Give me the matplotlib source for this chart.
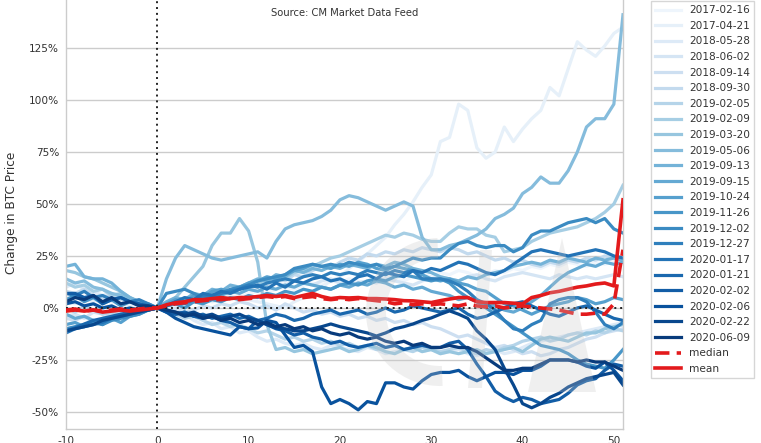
import numpy as np
import matplotlib
matplotlib.use("Agg")
import matplotlib.pyplot as plt
from matplotlib.patches import Wedge, Polygon
from matplotlib.transforms import IdentityTransform

days = list(range(-10, 52))

dates = ["2017-02-16", "2017-04-21", "2018-05-28", "2018-06-02", "2018-09-14",
         "2018-09-30", "2019-02-05", "2019-02-09", "2019-03-20", "2019-05-06",
         "2019-09-13", "2019-09-15", "2019-10-24", "2019-11-26", "2019-12-02",
         "2019-12-27", "2020-01-17", "2020-01-21", "2020-02-02", "2020-02-06",
         "2020-02-22", "2020-06-09"]

s0 = [5,6,4,5,3,4,2,3,1,1, 0, 1,2,2,3,4,3,5,6,5,7, 8,7,9,10,9,11,12,11,13,12, 14,13,12,14,15,14,13,15,16,15, 17,16,18,17,15,16,18,17,19,18, 20,19,21,20,22,21,20,22,21,23, 24]
s1 = [3,2,4,3,5,3,2,1,2,1, 0, 1,3,2,4,5,3,4,6,5,4, 3,2,1,0,3,5,8,10,13,15, 19,22,26,30,34,40,45,51,58,64, 80,82,98,95,77,72,75,87,80,86, 91,95,106,102,115,128,124,121,126,132, 135]
s2 = [10,12,9,8,6,7,4,5,3,2, 0, -2,-4,-3,-6,-8,-7,-10,-9,-12,-11, -14,-16,-15,-17,-18,-17,-19,-20,-18,-19, -20,-21,-19,-20,-22,-21,-20,-19,-21,-20, -22,-21,-20,-22,-23,-21,-20,-22,-21,-19, -17,-16,-15,-14,-13,-12,-11,-10,-9,-8, -7]
s3 = [-4,-3,-5,-2,-3,-1,-2,0,-1,0, 0, 2,3,5,4,6,8,7,9,10,9, 11,10,12,11,13,12,11,13,14,12, 11,12,13,12,14,13,12,11,13,14, 15,14,13,15,16,14,13,15,16,17, 16,15,14,16,15,14,15,14,15,16, 15]
s4 = [-5,-6,-4,-7,-5,-3,-4,-2,-3,-1, 0, -1,0,-2,-1,1,0,2,1,3,2, 0,1,-1,2,0,-2,-1,-3,-2,-4, -3,-5,-4,-6,-5,-7,-6,-8,-7,-9, -10,-12,-14,-13,-15,-17,-19,-18,-20,-22, -21,-23,-22,-20,-19,-17,-15,-14,-12,-11, -10]
s5 = [8,7,9,6,5,6,4,3,2,1, 0, 1,3,4,3,6,5,8,7,10,9, 12,11,14,13,16,15,18,20,19,22, 24,23,26,25,27,26,28,27,29,28, 27,29,28,26,27,25,23,24,22,23, 21,20,22,21,23,22,24,23,25,24, 25]
s6 = [0,-2,1,-1,-3,-2,-4,-3,-2,-1, 0, -2,-3,-5,-4,-6,-8,-7,-9,-8,-10, -12,-11,-13,-15,-14,-16,-15,-17,-16,-18, -17,-19,-18,-20,-19,-18,-20,-21,-19,-20, -21,-20,-19,-21,-22,-20,-21,-19,-18,-16, -15,-14,-16,-15,-13,-12,-13,-11,-12,-10, -11]
s7 = [12,10,11,8,9,6,7,4,3,1, 0, 2,4,3,5,6,5,7,8,9,10, 12,13,15,14,17,18,20,22,24,25, 27,29,31,33,35,34,36,35,33,32, 32,36,39,38,38,35,34,27,28,29, 32,34,36,37,38,39,41,43,46,50, 59]
s8 = [18,17,15,14,12,10,8,5,3,2, 0, 2,5,10,15,20,30,36,36,43,37, 22,-8,-20,-19,-21,-20,-22,-21,-20,-19, -21,-20,-18,-19,-21,-22,-20,-19,-21,-20, -22,-21,-22,-21,-20,-22,-21,-20,-19,-21, -18,-15,-14,-15,-16,-14,-12,-12,-10,-9, -8]
s9 = [14,12,13,10,9,7,6,4,2,1, 0, 14,24,30,28,26,24,23,24,25,26, 27,24,32,38,40,41,42,44,47,52, 54,53,51,49,47,49,51,49,34,28, 28,30,31,33,35,38,43,45,48,55, 58,63,60,60,66,75,87,91,91,98, 141]
s10 = [20,21,15,14,14,12,8,5,3,2, 0, 3,5,4,7,6,9,8,11,10,12, 14,13,16,15,18,17,19,18,20,19, 21,20,19,21,20,22,21,19,18,17, 15,14,13,15,14,16,17,18,20,21, 22,21,23,22,24,23,22,24,23,24, 23]
s11 = [-3,-5,-4,-6,-7,-5,-3,-4,-2,-1, 0, 1,2,4,3,5,7,6,8,7,9, 8,10,9,11,10,12,11,10,9,11, 10,12,11,13,12,10,11,9,10,8, 7,6,4,5,3,2,1,-1,-2,0, 3,6,10,14,17,19,21,20,22,21, 22]
s12 = [-8,-7,-9,-6,-8,-5,-7,-4,-3,-1, 0, 2,4,3,6,5,8,9,8,10,12, 13,15,14,16,18,19,21,20,19,21, 20,22,21,19,18,20,19,18,16,14, 13,14,12,11,9,8,5,2,1,-1, -3,-1,1,2,3,5,4,2,3,5, 4]
s13 = [4,6,3,5,2,4,1,3,2,1, 0, 1,2,0,3,2,4,3,5,4,6, 5,7,6,8,7,9,8,10,9,11, 12,11,13,14,13,15,16,15,14,13, 14,12,8,5,3,0,-3,-6,-9,-12, -15,-18,-19,-20,-22,-25,-27,-28,-29,-25, -20]
s14 = [-10,-9,-8,-7,-8,-6,-5,-4,-3,-1, 0, 7,8,9,7,5,6,7,9,10,11, 13,14,15,16,19,20,21,20,21,20, 22,21,20,21,19,20,22,24,23,24, 24,28,31,32,30,29,30,30,27,29, 35,37,37,39,41,42,43,41,43,38, 36]
s15 = [7,6,8,5,6,4,5,3,4,2, 0, 1,3,2,4,6,5,7,8,9,11, 10,12,13,14,13,15,16,15,17,16, 17,16,18,17,16,18,17,18,14,14, 14,13,11,8,4,2,-1,-6,-10,-11, -8,-6,2,4,5,5,3,-2,-8,-10, -7]
s16 = [-12,-10,-9,-8,-7,-5,-4,-3,-2,-1, 0, 1,3,5,4,7,6,8,7,9,10, 11,9,12,10,13,12,14,15,13,14, 12,15,16,14,17,16,15,18,17,19, 18,20,22,21,19,17,16,18,21,24, 27,28,27,26,25,26,27,28,27,25, 24]
s17 = [-11,-9.6,-7.7,-6,-5,-4,-3,-2,-1,-1, 0, -2,-3,-2,-4,-3,-5,-4,-3,-5,-4, -6,-5,-3,-4,-6,-5,-3,-2,-1,-3, -2,-1,-3,-2,0,-2,-1,1,0,-1, -2,-1,0,-3,-5,-4,-2,0,2,3, 1,-1,-3,-4,-2,0,1,-1,-3,-5, -6]
s18 = [7,7,5,6,2,4,5,3,2,1, 0, -1,-3,-2,-4,-5,-4,-6,-7,-9,-10, -6,-8,-10,-11,-13,-12,-14,-15,-17,-16, -18,-19,-18,-17,-19,-18,-20,-19,-18,-19, -19,-17,-16,-20,-27,-33,-40,-43,-45,-43, -44,-46,-45,-44,-41,-37,-35,-34,-30,-27, -28]
s19 = [2,3,1,2,0,1,-1,0,-1,0, 0, -2,-5,-7,-9,-10,-11,-12,-13,-9,-10, -9.6,-6,-7,-13,-19,-18,-21,-38,-46,-44, -46,-49,-45,-46,-36,-36,-38,-39,-35,-32, -31,-31,-30,-33,-35,-33,-31,-31,-32,-30, -30,-28,-25,-25,-25,-26,-28,-29,-26,-30, -35]
s20 = [-11,-10,-9,-8,-6,-5,-4,-3,-2,-1, 0, -1,-2,-3,-2,-4,-3,-5,-4,-3,-5, -6,-8,-9.6,-10,-11,-11,-10,-9,-7.7,-9, -10,-11,-12,-13.5,-12,-10,-9,-7.7,-6,-4.8, -3,-1.4,-3,-5,-11,-15,-20,-29,-37,-46, -48,-46,-43,-41,-38,-36,-34,-33,-32,-31, -37]
s21 = [3,5,4,6,3,5,2,3,1,1, 0, -1,-2,-4,-3,-5,-4,-6,-5,-7,-6, -8,-7,-9,-8,-10,-9,-11,-10,-12,-13, -12,-14,-15,-14,-16,-17,-16,-18,-17,-19, -19,-18,-19,-19,-21,-24,-27,-30,-30,-29, -29,-27,-25,-25,-25,-26,-25,-26,-26,-28, -30]

median = [-1,-0.5,-1.5,-1,-1.5,-1,-0.5,-1,-0.5,0, 0, 1,2,2.5,3,3.5,4,4,4.5,4,4.5, 5,5.5,5,5.5,4.5,5,5.5,4.5,4,4.5, 4,4.5,4,3.5,3,2,2.5,1.5,2,1.5, 2,1.5,1,2,1,0.5,1,0,0.5,1, 0.5,0,-0.5,-1,-2,-3,-3,-2.5,-3,2, 28]
mean = [-1.5,-1,-1.5,-1,-2,-1.5,-1,-1.5,-1,-0.5, 0, 1.5,2.5,3,4,4,4.5,5,4.5,5,5, 5.5,6,5.5,6,5,6,7,5.5,4.5,5, 4.8,5,4.5,4.5,4.3,4,3.5,3.4,3,2.6, 3.5,4.3,5,5,3,2.6,2.6,2.6,2.3,2, 5,6,7.3,8,9,10,10.6,11.5,12,10.6, 52]

series = [s0, s1, s2, s3, s4, s5, s6, s7, s8, s9, s10, s11, s12, s13, s14,
          s15, s16, s17, s18, s19, s20, s21]
for s in series + [median, mean]:
    assert len(s) == len(days), len(s)

yticks = [-50, -25, 0, 25, 50, 75, 100, 125, 150]
xticks = [-10, 0, 10, 20, 30, 40, 50]

W, H = 761, 443
fig = plt.figure(figsize=(W / 100, H / 100), dpi=100)
ax = fig.add_axes([66 / W, 14 / H, (623 - 66) / W, 433 / H])
ax.set_facecolor("white")

colors = plt.get_cmap("Blues")(np.linspace(0, 1, 24)[1:-1])
handles = []
for s, c, d in zip(series, colors, dates):
    ln, = ax.plot(days, s, color=c, lw=2.3, label=d, zorder=2)
    handles.append(ln)

ax.axhline(0, color="#222222", lw=1.4, ls=(0, (1, 2)), zorder=3)
ax.axvline(0, color="#222222", lw=1.4, ls=(0, (1, 2)), zorder=3)

lmed, = ax.plot(days, median, color="#e31a1c", lw=2.6, ls=(0, (4, 2)),
                label="median", zorder=4)
lmean, = ax.plot(days, mean, color="#e31a1c", lw=2.6, label="mean", zorder=5)
handles += [lmed, lmean]

# faint translucent watermark logo over the lines
wm = dict(transform=IdentityTransform(), facecolor="#c8c8c8", edgecolor="none",
          alpha=0.28, zorder=6)
ax.add_patch(Wedge((440, H - 312), 74, 92, 272, width=20, **wm))
ax.add_patch(Polygon([(468, H - 388), (480, H - 250), (492, H - 250), (482, H - 388)],
                     closed=True, **wm))
ax.add_patch(Polygon([(528, H - 392), (562, H - 238), (596, H - 392)],
                     closed=True, **wm))

ax.set_xlim(-10, 51)
ax.set_ylim(-58.2, 150)
ax.set_yticks(yticks)
ax.set_yticklabels([f"{v}%" for v in yticks])
ax.set_xticks(xticks)
ax.set_xticklabels([str(v) for v in xticks])
ax.tick_params(axis="both", length=0, labelsize=7.6, colors="#333333", pad=5)
ax.yaxis.grid(True, color="#cccccc", lw=1)
ax.xaxis.grid(False)
ax.set_axisbelow(True)
for sp in ax.spines.values():
    sp.set_color("#cccccc")
    sp.set_linewidth(1)

ax.set_ylabel("Change in BTC Price", fontsize=8.7, color="#333333", labelpad=8)
ax.text(0.5, (429 - 13) / 433, "Source: CM Market Data Feed", transform=ax.transAxes,
        ha="center", va="center", fontsize=7.2, color="#333333")

leg = ax.legend(handles=handles, loc="upper left",
                bbox_to_anchor=(651 / W, 442 / H), bbox_transform=fig.transFigure,
                fontsize=7.6, frameon=True, handlelength=2.4, labelspacing=0.53,
                borderpad=0.4, handletextpad=0.8, borderaxespad=0)
leg.get_frame().set_edgecolor("#cccccc")
leg.get_frame().set_linewidth(1)
leg.get_frame().set_boxstyle("square", pad=0)
for t in leg.get_texts():
    t.set_color("#333333")

fig.savefig("out.png", dpi=100)
